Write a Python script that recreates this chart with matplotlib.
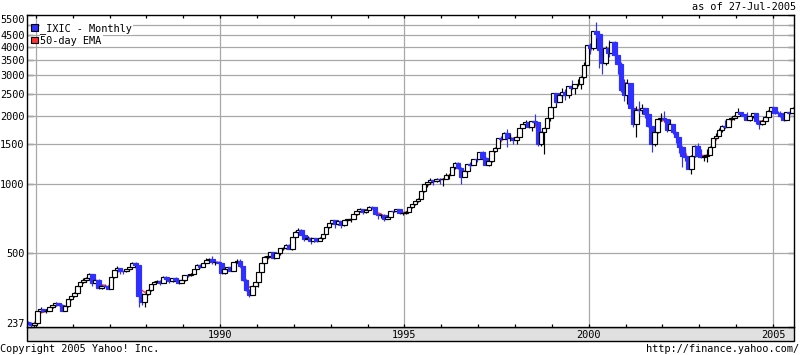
import matplotlib
matplotlib.use("Agg")
import matplotlib.pyplot as plt
import matplotlib.dates as mdates
import matplotlib.ticker as mticker
from matplotlib.patches import Rectangle
import numpy as np
import pandas as pd

# ---------------- data (monthly _IXIC, Oct 1984 .. Jul 2005) ----------------
start_month = "1984-10"
end_month = "2005-07"

opens = [
    249.9, 247.0, 242.5,
    247.4, 278.7, 284.2, 279.2, 280.6, 290.8, 296.2, 301.3, 297.7, 280.3, 292.3, 313.9,
    324.9, 335.8, 359.5, 374.7, 383.2, 391.0, 405.5, 371.4, 382.9, 350.7, 360.8, 359.6,
    348.8, 392.1, 424.0, 430.1, 417.8, 416.0, 424.7, 434.9, 455.0, 444.3, 323.3, 305.2,
    330.5, 344.7, 366.6, 374.6, 379.2, 370.3, 394.7, 387.3, 376.6, 387.7, 382.5, 371.5,
    381.4, 401.3, 399.7, 406.7, 427.5, 446.2, 435.3, 453.8, 469.3, 472.9, 455.6, 456.1,
    454.8, 410.7, 425.8, 435.5, 420.1, 459.0, 462.3, 438.2, 381.2, 344.5, 329.8, 359.1,
    373.8, 414.2, 453.1, 482.3, 484.7, 506.1, 475.9, 502.0, 525.7, 526.9, 543.0, 523.9,
    586.3, 620.2, 633.5, 603.8, 578.7, 585.3, 563.6, 580.8, 563.1, 583.3, 605.2, 652.7,
    677.0, 696.3, 670.8, 690.1, 661.4, 700.5, 704.0, 704.7, 742.8, 762.8, 779.3, 754.4,
    776.8, 800.5, 793.0, 743.5, 733.8, 735.2, 706.0, 722.2, 765.6, 764.3, 777.5, 750.3,
    752.0, 755.2, 793.7, 817.2, 844.0, 864.6, 933.5, 1001.2, 1020.1, 1043.5, 1036.1, 1059.2,
    1052.1, 1059.8, 1100.1, 1101.4, 1190.5, 1243.4, 1185.0, 1080.6, 1141.5, 1226.9, 1221.5, 1292.6,
    1291.0, 1379.9, 1309.0, 1221.7, 1260.8, 1400.3, 1442.1, 1593.8, 1587.3, 1685.7, 1593.6, 1600.6,
    1570.4, 1619.4, 1770.5, 1835.7, 1868.4, 1778.9, 1894.7, 1872.4, 1499.3, 1693.8, 1771.4, 1949.5,
    2192.7, 2505.9, 2288.0, 2461.4, 2542.9, 2470.5, 2686.1, 2638.5, 2739.4, 2746.2, 2966.4, 3336.2,
    4069.3, 3940.4, 4696.7, 4572.8, 3860.7, 3400.9, 3966.1, 3767.0, 4206.4, 3672.8, 3370.0, 2597.9,
    2470.5, 2772.7, 2151.8, 1840.3, 2116.2, 2110.5, 2160.5, 2027.1, 1805.4, 1498.8, 1690.2, 1930.6,
    1950.4, 1934.0, 1731.5, 1845.4, 1688.2, 1615.7, 1463.2, 1328.3, 1314.9, 1172.1, 1329.8, 1478.8,
    1335.5, 1320.9, 1337.5, 1341.2, 1464.3, 1595.9, 1622.8, 1735.0, 1810.5, 1786.9, 1932.2, 1960.3,
    2003.4, 2066.2, 2029.8, 1994.2, 1920.2, 1986.7, 2047.8, 1887.4, 1838.1, 1896.8, 1975.0, 2096.8,
    2175.4, 2062.4, 2051.7, 1999.2, 1921.7, 2068.2, 2057.0,
]

closes = [
    247.0, 242.5, 247.4,
    278.7, 284.2, 279.2, 280.6, 290.8, 296.2, 301.3, 297.7, 280.3, 292.3, 313.9, 324.9,
    335.8, 359.5, 374.7, 383.2, 391.0, 405.5, 371.4, 382.9, 350.7, 360.8, 359.6, 348.8,
    392.1, 424.0, 430.1, 417.8, 416.0, 424.7, 434.9, 455.0, 444.3, 323.3, 305.2, 330.5,
    344.7, 366.6, 374.6, 379.2, 370.3, 394.7, 387.3, 376.6, 387.7, 382.5, 371.5, 381.4,
    401.3, 399.7, 406.7, 427.5, 446.2, 435.3, 453.8, 469.3, 472.9, 455.6, 456.1, 454.8,
    410.7, 425.8, 435.5, 420.1, 459.0, 462.3, 438.2, 381.2, 344.5, 329.8, 359.1, 373.8,
    414.2, 453.1, 482.3, 484.7, 506.1, 475.9, 502.0, 525.7, 526.9, 543.0, 523.9, 586.3,
    620.2, 633.5, 603.8, 578.7, 585.3, 563.6, 580.8, 563.1, 583.3, 605.2, 652.7, 677.0,
    696.3, 670.8, 690.1, 661.4, 700.5, 704.0, 704.7, 742.8, 762.8, 779.3, 754.4, 776.8,
    800.5, 793.0, 743.5, 733.8, 735.2, 706.0, 722.2, 765.6, 764.3, 777.5, 750.3, 752.0,
    755.2, 793.7, 817.2, 844.0, 864.6, 933.5, 1001.2, 1020.1, 1043.5, 1036.1, 1059.2, 1052.1,
    1059.8, 1100.1, 1101.4, 1190.5, 1243.4, 1185.0, 1080.6, 1141.5, 1226.9, 1221.5, 1292.6, 1291.0,
    1379.9, 1309.0, 1221.7, 1260.8, 1400.3, 1442.1, 1593.8, 1587.3, 1685.7, 1593.6, 1600.6, 1570.4,
    1619.4, 1770.5, 1835.7, 1868.4, 1778.9, 1894.7, 1872.4, 1499.3, 1693.8, 1771.4, 1949.5, 2192.7,
    2505.9, 2288.0, 2461.4, 2542.9, 2470.5, 2686.1, 2638.5, 2739.4, 2746.2, 2966.4, 3336.2, 4069.3,
    3940.4, 4696.7, 4572.8, 3860.7, 3400.9, 3966.1, 3767.0, 4206.4, 3672.8, 3370.0, 2597.9, 2470.5,
    2772.7, 2151.8, 1840.3, 2116.2, 2110.5, 2160.5, 2027.1, 1805.4, 1498.8, 1690.2, 1930.6, 1950.4,
    1934.0, 1731.5, 1845.4, 1688.2, 1615.7, 1463.2, 1328.3, 1314.9, 1172.1, 1329.8, 1478.8, 1335.5,
    1320.9, 1337.5, 1341.2, 1464.3, 1595.9, 1622.8, 1735.0, 1810.5, 1786.9, 1932.2, 1960.3, 2003.4,
    2066.2, 2029.8, 1994.2, 1920.2, 1986.7, 2047.8, 1887.4, 1838.1, 1896.8, 1975.0, 2096.8, 2175.4,
    2062.4, 2051.7, 1999.2, 1921.7, 2068.2, 2057.0, 2170.0,
]

highs = [
    252, 250, 248,
    280, 290, 286, 284, 292, 297, 305, 302, 299, 293, 314, 326,
    337, 360, 376, 391, 393, 411, 406, 383, 385, 362, 365, 360,
    393, 424, 439, 432, 420, 425, 435, 456, 456, 445, 335, 335,
    346, 367, 377, 383, 381, 396, 396, 390, 389, 392, 383, 382,
    402, 406, 408, 428, 447, 447, 454, 475, 477, 485, 458, 460,
    455, 427, 437, 441, 459, 470, 470, 440, 385, 347, 360, 376,
    415, 455, 485, 500, 506, 507, 503, 526, 531, 546, 547, 587,
    623, 645, 636, 606, 596, 590, 584, 585, 589, 605, 653, 677,
    699, 700, 692, 693, 702, 705, 712, 744, 763, 788, 780, 777,
    801, 804, 799, 746, 745, 740, 725, 766, 775, 780, 780, 753,
    765, 794, 818, 845, 870, 934, 1006, 1020, 1065, 1046, 1070, 1070,
    1062, 1118, 1111, 1191, 1250, 1249, 1188, 1150, 1231, 1252, 1293, 1317,
    1381, 1397, 1320, 1265, 1400, 1462, 1594, 1630, 1697, 1745, 1655, 1620,
    1620, 1771, 1836, 1911, 1875, 1900, 2028, 1885, 1700, 1774, 1950, 2193,
    2510, 2525, 2500, 2652, 2611, 2686, 2864, 2755, 2888, 2970, 3430, 4090,
    4150, 4697, 5132, 4580, 3860, 4040, 4290, 4220, 4260, 3680, 3450, 2900,
    2893, 2740, 2250, 2200, 2320, 2260, 2150, 2030, 1790, 1760, 1940, 2060,
    2100, 1935, 1930, 1845, 1690, 1620, 1470, 1425, 1330, 1345, 1490, 1520,
    1425, 1350, 1425, 1470, 1600, 1680, 1760, 1815, 1910, 1940, 1980, 2010,
    2154, 2080, 2040, 2080, 2000, 2050, 2050, 1890, 1910, 1990, 2110, 2180,
    2190, 2100, 2095, 2010, 2070, 2100, 2180,
]

lows = [
    242, 238, 237.5,
    245, 277, 276, 275, 280, 289, 295, 296, 278, 278, 292, 313,
    323, 334, 358, 372, 373, 388, 358, 362, 348, 347, 354, 347,
    348, 391, 420, 407, 405, 412, 423, 434, 438, 292, 297, 291,
    329, 343, 365, 370, 362, 369, 383, 371, 375, 381, 366, 370,
    378, 395, 397, 406, 427, 431, 434, 453, 466, 447, 446, 450,
    407, 407, 425, 420, 420, 452, 437, 379, 340, 323, 329, 358,
    355, 412, 450, 478, 480, 470, 475, 490, 518, 524, 520, 517,
    585, 614, 598, 565, 574, 547, 562, 560, 566, 575, 604, 645,
    672, 645, 665, 645, 660, 685, 686, 704, 733, 758, 741, 750,
    776, 782, 740, 705, 710, 690, 705, 720, 760, 760, 745, 735,
    743, 756, 790, 810, 840, 863, 930, 978, 1019, 990, 1028, 1000,
    988, 1058, 1060, 1095, 1165, 1165, 1005, 1076, 1130, 1185, 1215, 1250,
    1288, 1295, 1215, 1201, 1252, 1390, 1440, 1565, 1580, 1465, 1555, 1510,
    1500, 1610, 1747, 1801, 1762, 1720, 1843, 1474, 1470, 1357, 1770, 1890,
    2190, 2250, 2284, 2400, 2340, 2390, 2610, 2490, 2710, 2627, 2930, 3320,
    3711, 3880, 4380, 3227, 3042, 3339, 3600, 3700, 3530, 3040, 2540, 2330,
    2250, 2150, 1790, 1620, 2050, 2030, 1960, 1790, 1390, 1480, 1680, 1900,
    1880, 1700, 1730, 1660, 1520, 1370, 1190, 1270, 1170, 1108, 1320, 1320,
    1310, 1270, 1250, 1340, 1460, 1590, 1625, 1700, 1770, 1800, 1880, 1920,
    2000, 2000, 1930, 1910, 1890, 1960, 1830, 1750, 1820, 1880, 1970, 2080,
    2030, 2030, 1970, 1890, 1910, 2040, 2050,
]

ytick_values = [237, 500, 1000, 1500, 2000, 2500, 3000, 3500, 4000, 4500, 5000, 5500]
ytick_labels = ["237", "500", "1000", "1500", "2000", "2500", "3000", "3500",
                "4000", "4500", "", "5500"]
grid_values = [500, 1000, 1500, 2000, 2500, 3000, 3500, 4000, 4500, 5000]
xtick_label_years = [1990, 1995, 2000, 2005]
y_min, y_max = 237, 5500
x_start, x_end = "1984-10-08", "2005-07-28"
legend_labels = ["_IXIC - Monthly", "50-day EMA"]
as_of_text = "as of 27-Jul-2005"
copyright_text = "Copyright 2005 Yahoo! Inc."
url_text = "http://finance.yahoo.com/"

# ---------------- style ----------------
BLUE = "#2f2fff"
RED = "#ff3030"
GRID = "#a8a8a8"
BAND = "#e0e0e0"
FONT = "DejaVu Sans Mono"
FS = 7.4

plt.rcParams["font.family"] = [FONT]

W, H = 800, 355
fig = plt.figure(figsize=(W / 100, H / 100), dpi=100)
fig.patch.set_facecolor("white")


def fx(px):
    return px / W


def fy(py):
    return 1 - py / H


L, R, T, B = 27.3, 794.0, 15.3, 327.3
ax = fig.add_axes([fx(L), fy(B), fx(R) - fx(L), fy(T) - fy(B)])

months = pd.date_range(start_month, end_month, freq="MS") + pd.Timedelta(days=15)
xs = mdates.date2num(months.to_pydatetime())

ax.set_yscale("log")
ax.set_ylim(y_min, y_max)
ax.set_xlim(mdates.datestr2num(x_start), mdates.datestr2num(x_end))

# EMA line (behind candles)
ema = pd.Series(closes).ewm(span=3, adjust=False).mean().values
ax.plot(xs, ema, color=RED, lw=1.0, zorder=2)

cw = 46.0  # candle width in days
for x, o, h, l, c in zip(xs, opens, highs, lows, closes):
    up = c >= o
    col = "black" if up else BLUE
    ax.vlines(x, l, h, color=col, lw=0.85, zorder=3)
    lo_, hi_ = min(o, c), max(o, c)
    if hi_ / lo_ < 1.004:
        hi_ = lo_ * 1.004
    ax.add_patch(Rectangle((x - cw / 2, lo_), cw, hi_ - lo_,
                           facecolor="white" if up else BLUE,
                           edgecolor=col, lw=0.85, zorder=3))

# grid
for v in grid_values:
    ax.axhline(v, color=GRID, lw=0.9, zorder=1)
ax.xaxis.set_major_locator(mdates.YearLocator(5))
ax.xaxis.set_minor_locator(mdates.YearLocator(1))


def year_fmt(v, pos):
    yr = mdates.num2date(v).year
    return str(yr) if yr in xtick_label_years else ""


ax.xaxis.set_major_formatter(mticker.FuncFormatter(year_fmt))
ax.grid(axis="x", which="major", color=GRID, lw=0.9, zorder=1)
ax.set_axisbelow(True)

ax.set_yticks(ytick_values)
ax.set_yticklabels(ytick_labels)
ax.yaxis.set_minor_locator(mticker.NullLocator())

ax.tick_params(axis="y", which="major", direction="in", length=4.5, width=0.9,
               left=True, right=True, labelsize=FS, pad=1.8, colors="black")
ax.tick_params(axis="x", which="both", direction="in", length=2.0, width=0.9,
               top=True, bottom=True, labelsize=FS, pad=2.3)

for lab in ax.get_yticklabels():
    if lab.get_text() == "5500":
        lab.set_verticalalignment("top")
    if lab.get_text() == "237":
        lab.set_verticalalignment("baseline")

for sp in ax.spines.values():
    sp.set_linewidth(1.0)
    sp.set_color("black")
    sp.set_zorder(5)

# gray date band under the plot
band = Rectangle((fx(L), fy(340.5)), fx(R) - fx(L), fy(B) - fy(340.5),
                 transform=fig.transFigure, facecolor=BAND, edgecolor="black",
                 lw=1.0, zorder=-1)
fig.patches.append(band)

# legend
leg_y = [27.3, 40.2]
leg_cols = [BLUE, RED]
for yy, lab, colr in zip(leg_y, legend_labels, leg_cols):
    fig.patches.append(Rectangle((fx(31), fy(yy + 3.2)), fx(6.7) - fx(0), fy(0) - fy(6.4),
                                 transform=fig.transFigure, facecolor=colr,
                                 edgecolor="black", lw=0.8, zorder=6))
    fig.text(fx(40.5), fy(yy + 1.0), lab, fontsize=FS, ha="left", va="center",
             zorder=5, bbox=dict(facecolor="white", edgecolor="none", pad=0.6))

# header / footer
fig.text(fx(796.5), fy(6.5), as_of_text, fontsize=FS, ha="right", va="center")
fig.text(fx(0.5), fy(349), copyright_text, fontsize=FS, ha="left", va="center")
fig.text(fx(799.5), fy(349), url_text, fontsize=FS, ha="right", va="center")

fig.savefig("out.png", dpi=100)
